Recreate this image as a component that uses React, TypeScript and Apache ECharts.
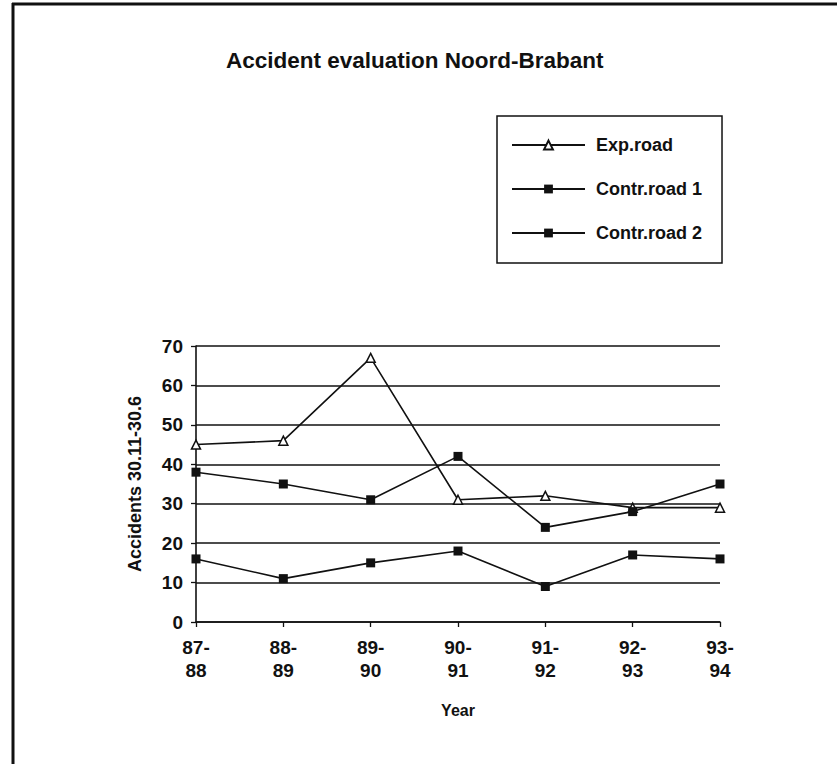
import React, { useEffect, useRef } from "react";
import * as echarts from "echarts";

const categories = ["87-\n88", "88-\n89", "89-\n90", "90-\n91", "91-\n92", "92-\n93", "93-\n94"];
const expRoad = [45, 46, 67, 31, 32, 29, 29];
const contrRoad1 = [38, 35, 31, 42, 24, 28, 35];
const contrRoad2 = [16, 11, 15, 18, 9, 17, 16];
const seriesNames = ["Exp.road", "Contr.road 1", "Contr.road 2"];
const titleText = "Accident evaluation Noord-Brabant";
const yAxisName = "Accidents 30.11-30.6";
const xAxisName = "Year";

const FONT = "'Liberation Sans', Arial, Helvetica, sans-serif";

export default function App() {
  const ref = useRef<HTMLDivElement>(null);
  useEffect(() => {
    if (!ref.current) return;
    const chart = echarts.init(ref.current, undefined, { renderer: "svg" });
    const lineStyle = { color: "#111", width: 1.6 };
    chart.setOption({
      animation: false,
      backgroundColor: "#fff",
      textStyle: { fontFamily: FONT, color: "#111", fontWeight: "bold" },
      title: {
        text: titleText,
        left: 226,
        top: 49,
        padding: 0,
        textStyle: { fontFamily: FONT, fontSize: 22.5, fontWeight: "bold", color: "#111" },
      },
      legend: {
        orient: "vertical",
        left: 497,
        top: 116,
        padding: [19, 20, 20, 14],
        borderColor: "#111",
        borderWidth: 1.5,
        itemWidth: 73,
        itemHeight: 11,
        itemGap: 24,
        data: seriesNames,
        textStyle: {
          fontFamily: FONT,
          fontSize: 18,
          lineHeight: 20,
          fontWeight: "bold",
          color: "#111",
          padding: [0, 0, 0, 6],
        },
      },
      grid: { left: 196, right: 117, top: 346, bottom: 142, containLabel: false },
      xAxis: {
        type: "category",
        data: categories,
        boundaryGap: false,
        name: xAxisName,
        nameLocation: "middle",
        nameGap: 80,
        nameTextStyle: { fontFamily: FONT, fontSize: 16, fontWeight: "bold", color: "#111" },
        axisLine: { lineStyle: { color: "#111", width: 1.6 } },
        axisTick: { show: true, length: 5, lineStyle: { color: "#111", width: 1.3 } },
        axisLabel: {
          fontFamily: FONT,
          fontSize: 19,
          lineHeight: 23,
          fontWeight: "bold",
          color: "#111",
          margin: 14,
          interval: 0,
        },
        splitLine: { show: false },
      },
      yAxis: {
        type: "value",
        min: 0,
        max: 70,
        interval: 10,
        name: yAxisName,
        nameLocation: "middle",
        nameRotate: 90,
        nameGap: 52,
        nameTextStyle: { fontFamily: FONT, fontSize: 18, fontWeight: "bold", color: "#111" },
        axisLine: { show: true, lineStyle: { color: "#111", width: 1.6 } },
        axisTick: { show: true, length: 5, lineStyle: { color: "#111", width: 1.3 } },
        axisLabel: {
          fontFamily: FONT,
          fontSize: 19,
          fontWeight: "bold",
          color: "#111",
          margin: 13,
        },
        splitLine: { show: true, lineStyle: { color: "#111", width: 1.6 } },
      },
      series: [
        {
          name: seriesNames[0],
          type: "line",
          data: expRoad,
          symbol: "triangle",
          symbolSize: 9,
          lineStyle,
          itemStyle: { color: "#fff", borderColor: "#111", borderWidth: 1.5 },
          z: 3,
        },
        {
          name: seriesNames[1],
          type: "line",
          data: contrRoad1,
          symbol: "rect",
          symbolSize: 9,
          lineStyle,
          itemStyle: { color: "#111", borderColor: "#111", borderWidth: 0 },
        },
        {
          name: seriesNames[2],
          type: "line",
          data: contrRoad2,
          symbol: "rect",
          symbolSize: 9,
          lineStyle,
          itemStyle: { color: "#111", borderColor: "#111", borderWidth: 0 },
        },
      ],
      graphic: [
        {
          type: "line",
          shape: { x1: 13, y1: 3, x2: 13, y2: 764 },
          style: { stroke: "#111", lineWidth: 3 },
        },
        {
          type: "line",
          shape: { x1: 12, y1: 4, x2: 837, y2: 4 },
          style: { stroke: "#111", lineWidth: 3 },
        },
      ],
    });
    return () => chart.dispose();
  }, []);
  return (
    <div
      ref={ref}
      style={{ position: "absolute", left: 0, top: 0, width: 837, height: 764, background: "#fff" }}
    />
  );
}
